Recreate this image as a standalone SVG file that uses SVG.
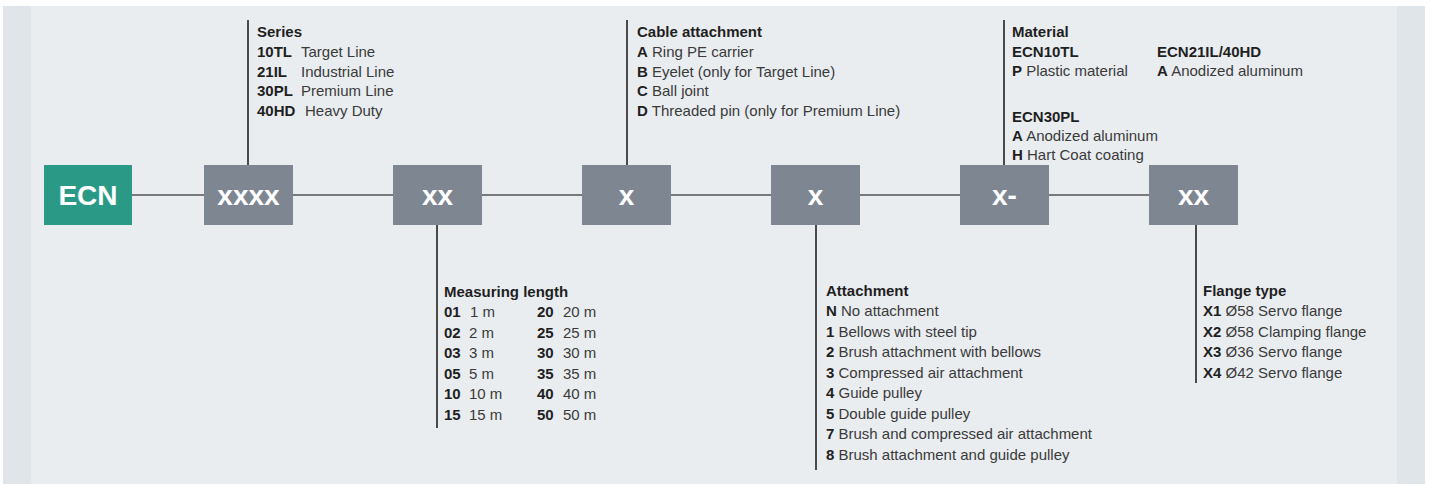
<svg xmlns="http://www.w3.org/2000/svg" width="1430" height="485" viewBox="0 0 1430 485">
<defs>
<style>
.bg{fill:#ffffff}
.band{fill:#e0e5e9}
.panel{fill:#e9edf0}
.green{fill:#2a9a87}
.gray{fill:#7e8692}
.bx{font-family:"Liberation Sans",Arial,sans-serif;font-weight:bold;font-size:28px;fill:#ffffff;text-anchor:middle}
.conn{stroke:#77797c;stroke-width:2;fill:none}
.lead{stroke:#4a4a4a;stroke-width:2;fill:none}
.txt{font-family:"Liberation Sans",Arial,sans-serif;font-size:15px;fill:#3a3a3a}
.b{font-weight:bold;fill:#1f1f1f}
</style>
</defs>
<rect class="bg" x="0" y="0" width="1430" height="485"/>
<rect class="band" x="3" y="6" width="1422" height="478"/>
<rect class="panel" x="31" y="6" width="1366" height="478"/>

<g id="connectors">
<line class="conn" x1="132" y1="195" x2="1149" y2="195"/>
<line class="lead" x1="248" y1="20" x2="248" y2="165"/>
<line class="lead" x1="627" y1="20" x2="627" y2="165"/>
<line class="lead" x1="1004" y1="20" x2="1004" y2="165"/>
<line class="lead" x1="437" y1="225" x2="437" y2="428"/>
<line class="lead" x1="816" y1="225" x2="816" y2="470"/>
<line class="lead" x1="1196" y1="225" x2="1196" y2="383"/>
</g>

<g id="node-ecn">
<rect class="green" x="44" y="165" width="88" height="60"/>
<text class="bx" x="88" y="205">ECN</text>
</g>
<g id="node-series">
<rect class="gray" x="204" y="165" width="89" height="60"/>
<text class="bx" x="248.5" y="205">xxxx</text>
</g>
<g id="node-length">
<rect class="gray" x="393" y="165" width="89" height="60"/>
<text class="bx" x="437.5" y="205">xx</text>
</g>
<g id="node-cable">
<rect class="gray" x="582" y="165" width="89" height="60"/>
<text class="bx" x="626.5" y="205">x</text>
</g>
<g id="node-attachment">
<rect class="gray" x="771" y="165" width="89" height="60"/>
<text class="bx" x="815.5" y="205">x</text>
</g>
<g id="node-material">
<rect class="gray" x="960" y="165" width="89" height="60"/>
<text class="bx" x="1004.5" y="205">x-</text>
</g>
<g id="node-flange">
<rect class="gray" x="1149" y="165" width="89" height="60"/>
<text class="bx" x="1193.5" y="205">xx</text>
</g>

<g id="label-series" class="txt">
<text x="257" y="37" class="b">Series</text>
<text y="57"><tspan x="257" class="b">10TL</tspan><tspan x="301">Target Line</tspan></text>
<text y="77"><tspan x="257" class="b">21IL</tspan><tspan x="301">Industrial Line</tspan></text>
<text y="96"><tspan x="257" class="b">30PL</tspan><tspan x="301">Premium Line</tspan></text>
<text y="116"><tspan x="257" class="b">40HD</tspan><tspan x="305">Heavy Duty</tspan></text>
</g>

<g id="label-cable" class="txt">
<text x="637" y="37" class="b">Cable attachment</text>
<text x="637" y="57"><tspan class="b">A</tspan> Ring PE carrier</text>
<text x="637" y="77"><tspan class="b">B</tspan> Eyelet (only for Target Line)</text>
<text x="637" y="96"><tspan class="b">C</tspan> Ball joint</text>
<text x="637" y="116"><tspan class="b">D</tspan> Threaded pin (only for Premium Line)</text>
</g>

<g id="label-material" class="txt">
<text x="1012" y="37" class="b">Material</text>
<text x="1012" y="57" class="b">ECN10TL</text>
<text x="1157" y="57" class="b">ECN21IL/40HD</text>
<text x="1012" y="76"><tspan class="b">P</tspan> Plastic material</text>
<text x="1157" y="76"><tspan class="b">A</tspan> Anodized aluminum</text>
<text x="1012" y="122" class="b">ECN30PL</text>
<text x="1012" y="141"><tspan class="b">A</tspan> Anodized aluminum</text>
<text x="1012" y="160"><tspan class="b">H</tspan> Hart Coat coating</text>
</g>

<g id="label-length" class="txt">
<text x="444" y="297" class="b">Measuring length</text>
<text y="317"><tspan x="444" class="b">01</tspan><tspan x="470">1 m</tspan><tspan x="537" class="b">20</tspan><tspan x="563">20 m</tspan></text>
<text y="338"><tspan x="444" class="b">02</tspan><tspan x="469">2 m</tspan><tspan x="537" class="b">25</tspan><tspan x="563">25 m</tspan></text>
<text y="358"><tspan x="444" class="b">03</tspan><tspan x="469">3 m</tspan><tspan x="537" class="b">30</tspan><tspan x="563">30 m</tspan></text>
<text y="379"><tspan x="444" class="b">05</tspan><tspan x="469">5 m</tspan><tspan x="537" class="b">35</tspan><tspan x="563">35 m</tspan></text>
<text y="399"><tspan x="444" class="b">10</tspan><tspan x="469">10 m</tspan><tspan x="537" class="b">40</tspan><tspan x="563">40 m</tspan></text>
<text y="420"><tspan x="444" class="b">15</tspan><tspan x="469">15 m</tspan><tspan x="537" class="b">50</tspan><tspan x="563">50 m</tspan></text>
</g>

<g id="label-attachment" class="txt">
<text x="826" y="296" class="b">Attachment</text>
<text x="826" y="316"><tspan class="b">N</tspan> No attachment</text>
<text x="826" y="337"><tspan class="b">1</tspan> Bellows with steel tip</text>
<text x="826" y="357"><tspan class="b">2</tspan> Brush attachment with bellows</text>
<text x="826" y="378"><tspan class="b">3</tspan> Compressed air attachment</text>
<text x="826" y="398"><tspan class="b">4</tspan> Guide pulley</text>
<text x="826" y="419"><tspan class="b">5</tspan> Double guide pulley</text>
<text x="826" y="439"><tspan class="b">7</tspan> Brush and compressed air attachment</text>
<text x="826" y="460"><tspan class="b">8</tspan> Brush attachment and guide pulley</text>
</g>

<g id="label-flange" class="txt">
<text x="1203" y="296" class="b">Flange type</text>
<text x="1203" y="316"><tspan class="b">X1</tspan> Ø58 Servo flange</text>
<text x="1203" y="337"><tspan class="b">X2</tspan> Ø58 Clamping flange</text>
<text x="1203" y="357"><tspan class="b">X3</tspan> Ø36 Servo flange</text>
<text x="1203" y="378"><tspan class="b">X4</tspan> Ø42 Servo flange</text>
</g>
</svg>
